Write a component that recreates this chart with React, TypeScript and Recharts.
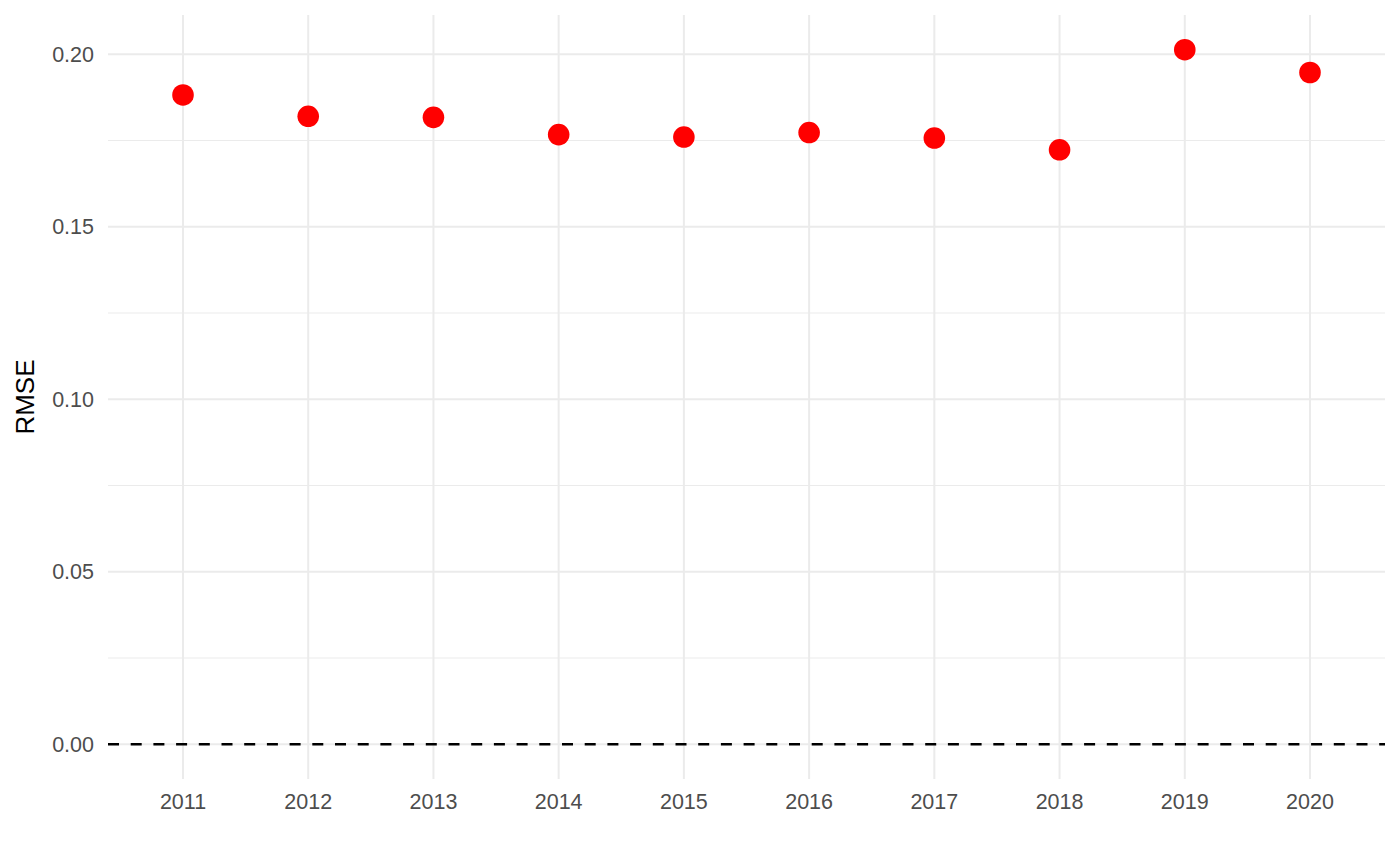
import {
  ComposedChart,
  Scatter,
  XAxis,
  YAxis,
  CartesianGrid,
  ReferenceLine,
  Label,
} from "recharts";

const years = ["2011", "2012", "2013", "2014", "2015", "2016", "2017", "2018", "2019", "2020"];
const rmse = [0.1882, 0.182, 0.1817, 0.1767, 0.176, 0.1773, 0.1757, 0.1723, 0.2013, 0.1947];

const yTicks = [0, 0.05, 0.1, 0.15, 0.2];
const yMinorTicks = [0.025, 0.075, 0.125, 0.175];

const data = years.map((year, i) => ({ year, rmse: rmse[i] }));

// ggplot-style 5% expansion around the data (the zero line counts too)
const lo = Math.min(0, ...rmse);
const hi = Math.max(0, ...rmse);
const pad = (hi - lo) * 0.05;

const FONT = "'Liberation Sans', Arial, sans-serif";

const Dot = (props: any) => {
  const { cx, cy } = props;
  return <circle cx={cx} cy={cy} r={10.8} fill="#ff0000" />;
};

export default function App() {
  return (
    <div style={{ position: "absolute", left: 0, top: 0, background: "#fff" }}>
      <ComposedChart
        width={1400}
        height={865}
        data={data}
        margin={{ top: 15, right: 15, bottom: 0, left: 0 }}
      >
        <CartesianGrid
          stroke="#ebebeb"
          strokeWidth={1}
          vertical={false}
          horizontalValues={yMinorTicks}
        />
        <CartesianGrid
          stroke="#ebebeb"
          strokeWidth={2}
          horizontalValues={yTicks}
          verticalValues={years}
        />

        <XAxis
          dataKey="year"
          type="category"
          scale="point"
          padding={{ left: 75, right: 75 }}
          height={86}
          axisLine={false}
          tickLine={false}
          tickSize={0}
          tickMargin={15}
          tick={{ fill: "#4d4d4d", fontSize: 21.5, fontFamily: FONT }}
          interval={0}
        />

        <YAxis
          type="number"
          domain={[lo - pad, hi + pad]}
          ticks={yTicks}
          allowDataOverflow
          width={108}
          axisLine={false}
          tickLine={false}
          tickSize={0}
          tickMargin={14}
          tickFormatter={(v: number) => v.toFixed(2)}
          tick={{ fill: "#4d4d4d", fontSize: 21.5, fontFamily: FONT }}
        >
          <Label
            content={(props: any) => {
              const vb = props.viewBox;
              const x = vb.x + 25;
              const y = vb.y + vb.height / 2;
              return (
                <text
                  x={x}
                  y={y}
                  transform={`rotate(-90 ${x} ${y})`}
                  textAnchor="middle"
                  dominantBaseline="central"
                  fill="#000"
                  fontSize={26}
                  fontFamily={FONT}
                >
                  RMSE
                </text>
              );
            }}
          />
        </YAxis>

        <ReferenceLine
          y={0}
          stroke="#000"
          strokeWidth={2.6}
          strokeDasharray="11 11.7"
        />

        <Scatter dataKey="rmse" shape={Dot} isAnimationActive={false} />
      </ComposedChart>
    </div>
  );
}
